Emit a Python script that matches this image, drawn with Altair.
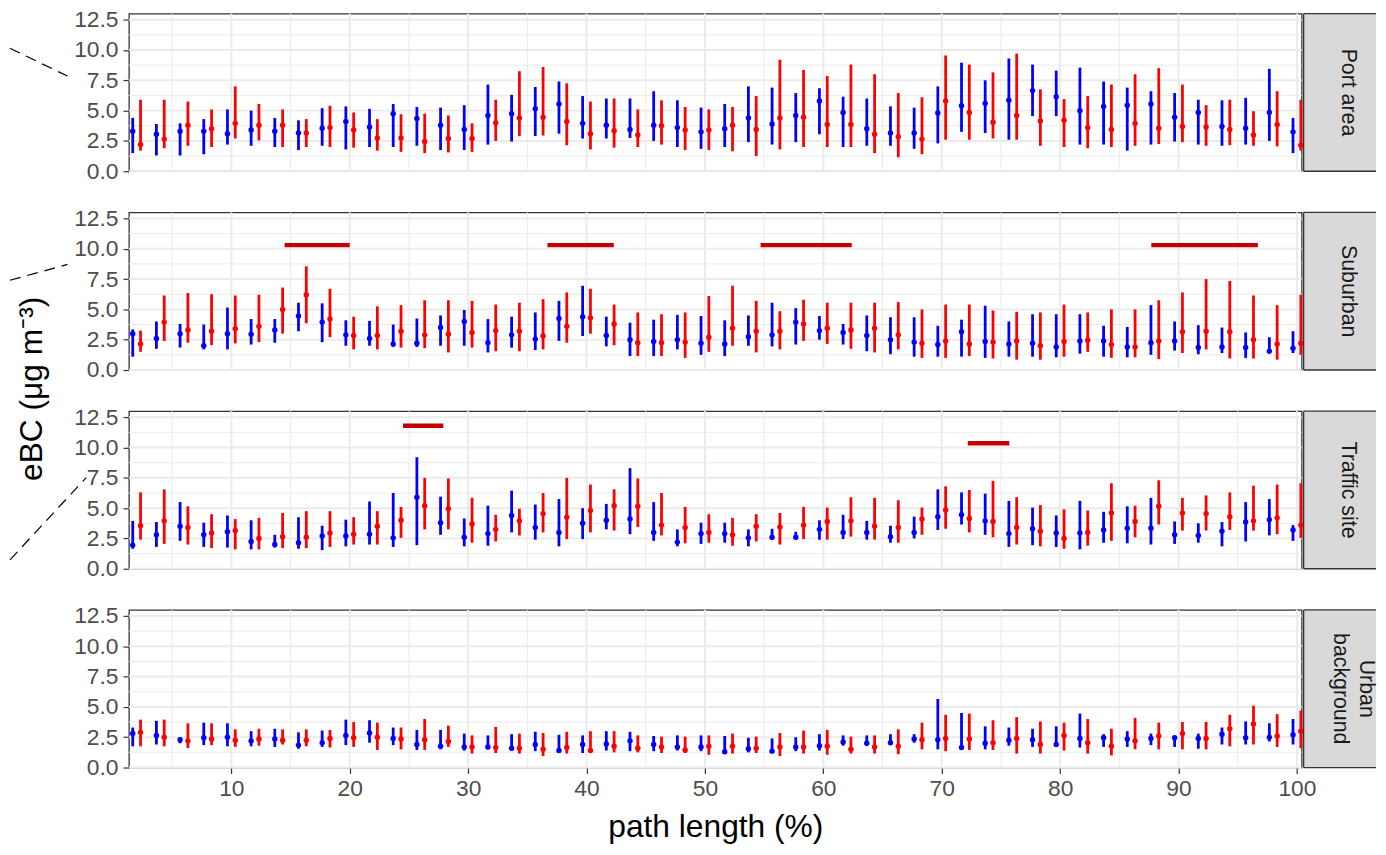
import altair as alt
import pandas as pd

# ---------------- data ----------------
path_length = [2, 4, 6, 8, 10, 12, 14, 16, 18, 20,
               22, 24, 26, 28, 30, 32, 34, 36, 38, 40,
               42, 44, 46, 48, 50, 52, 54, 56, 58, 60,
               62, 64, 66, 68, 70, 72, 74, 76, 78, 80,
               82, 84, 86, 88, 90, 92, 94, 96, 98, 100]

site_labels = ["Port area", "Suburban", "Traffic site", "Urban\nbackground"]
series_names = ["blue", "red"]
series_colors = ["#0000FF", "#FF0000"]

# Port area
port_blue_mid = [3.3, 3.05, 3.3, 3.3, 3.1, 3.4, 3.3, 3.15, 3.55, 4.1,
                 3.65, 4.75, 4.35, 3.8, 3.45, 4.6, 4.75, 5.15, 5.55, 3.95,
                 3.8, 3.45, 3.8, 3.6, 3.25, 3.5, 4.4, 3.9, 4.6, 5.8,
                 4.85, 3.5, 3.15, 3.15, 4.8, 5.4, 5.6, 5.85, 6.65, 6.15,
                 5.0, 5.35, 5.45, 5.55, 4.45, 4.85, 3.7, 3.55, 4.85, 3.25]
port_blue_lo = [1.5, 1.3, 1.3, 1.4, 2.2, 2.1, 2.0, 1.75, 2.1, 1.8,
                2.0, 2.0, 2.1, 1.75, 1.75, 2.2, 2.45, 2.9, 3.1, 2.7,
                2.7, 2.75, 2.5, 2.0, 1.85, 2.0, 2.4, 2.2, 2.4, 3.05,
                2.0, 2.1, 2.1, 1.85, 2.3, 3.25, 3.15, 2.6, 4.55, 4.55,
                2.2, 2.2, 1.7, 2.2, 2.45, 2.2, 2.1, 2.2, 2.5, 1.5]
port_blue_hi = [4.4, 3.9, 3.95, 4.3, 5.1, 5.0, 4.4, 4.2, 5.2, 5.35,
                5.15, 5.55, 5.3, 5.25, 5.45, 7.15, 6.3, 6.95, 7.4, 6.2,
                6.0, 6.0, 6.6, 5.85, 5.25, 5.55, 7.0, 6.9, 6.45, 6.85,
                6.15, 6.0, 5.35, 5.25, 7.0, 8.95, 7.5, 9.3, 8.8, 8.3,
                8.55, 7.4, 6.9, 6.6, 6.45, 5.9, 5.85, 6.05, 8.45, 4.4]
port_red_mid = [2.2, 2.65, 3.8, 3.5, 3.95, 3.8, 3.8, 3.15, 3.6, 3.4,
                2.75, 2.75, 2.45, 2.7, 2.7, 4.0, 4.4, 4.45, 4.1, 3.1,
                3.35, 3.0, 3.75, 3.4, 3.4, 3.8, 3.45, 4.4, 4.45, 3.85,
                3.85, 3.05, 2.85, 2.65, 5.8, 4.85, 4.05, 4.6, 4.15, 4.2,
                3.6, 3.45, 3.95, 3.55, 3.7, 3.65, 3.45, 3.0, 3.85, 2.15]
port_red_lo = [1.7, 1.9, 2.1, 2.0, 2.7, 2.55, 2.0, 2.0, 2.0, 1.95,
               1.7, 1.6, 1.5, 1.55, 1.6, 2.5, 2.9, 2.95, 2.15, 1.8,
               1.95, 2.0, 2.2, 1.75, 1.75, 1.65, 1.25, 1.8, 2.0, 2.0,
               2.0, 1.5, 1.15, 1.4, 2.6, 2.6, 2.7, 2.6, 2.1, 2.0,
               1.9, 2.0, 2.1, 2.25, 2.4, 2.1, 2.15, 2.1, 2.05, 1.7]
port_red_hi = [5.9, 5.9, 5.75, 5.1, 7.0, 5.55, 5.1, 4.3, 5.4, 4.85,
               4.3, 4.7, 4.75, 4.6, 3.95, 5.9, 8.25, 8.6, 7.25, 5.75,
               6.0, 5.1, 5.85, 5.3, 5.1, 5.3, 6.2, 9.2, 8.35, 7.85,
               8.8, 8.0, 6.45, 6.1, 9.55, 8.8, 8.15, 9.7, 6.75, 5.95,
               6.2, 7.15, 8.0, 8.5, 7.15, 5.45, 5.9, 4.95, 6.6, 5.9]

# Suburban
sub_blue_mid = [3.0, 2.6, 3.0, 2.0, 3.0, 2.95, 3.3, 4.45, 3.95, 2.9,
                2.6, 2.15, 2.2, 3.5, 4.0, 2.25, 2.9, 2.55, 4.25, 4.4,
                2.85, 2.5, 2.35, 2.5, 2.2, 2.15, 2.75, 2.9, 3.95, 3.25,
                3.1, 2.85, 2.5, 2.3, 2.1, 3.15, 2.35, 2.15, 2.2, 1.9,
                2.4, 2.4, 1.9, 2.25, 2.4, 1.85, 1.9, 1.85, 1.55, 1.8]
sub_blue_lo = [1.1, 1.75, 1.85, 1.7, 1.7, 2.1, 2.25, 3.2, 2.3, 2.0,
               2.0, 1.9, 1.9, 2.0, 2.0, 1.45, 1.85, 1.65, 2.4, 2.8,
               1.95, 1.15, 1.15, 1.7, 1.25, 1.15, 2.0, 1.95, 2.1, 2.5,
               2.1, 1.55, 1.3, 1.1, 1.1, 1.1, 1.0, 1.1, 1.1, 1.05,
               1.35, 1.1, 1.05, 1.25, 1.6, 1.3, 1.4, 1.0, 1.4, 1.4]
sub_blue_hi = [3.35, 4.0, 3.8, 3.75, 5.15, 4.2, 4.2, 5.55, 5.5, 4.1,
               4.05, 3.75, 4.25, 4.5, 4.95, 4.2, 4.4, 4.75, 5.7, 6.95,
               4.4, 3.9, 4.15, 4.55, 4.45, 4.1, 4.5, 5.55, 5.1, 4.45,
               3.8, 4.5, 4.35, 4.35, 3.65, 4.15, 5.3, 4.0, 4.6, 4.6,
               4.6, 3.65, 3.55, 5.35, 4.0, 3.7, 3.5, 3.1, 2.7, 3.2]
sub_red_mid = [2.15, 3.95, 3.3, 3.2, 3.4, 3.6, 5.0, 6.2, 4.2, 2.85,
               2.85, 3.2, 2.9, 2.95, 3.1, 3.25, 3.2, 2.8, 3.6, 4.3,
               3.8, 2.25, 2.25, 2.3, 2.7, 3.45, 3.2, 3.2, 3.8, 3.45,
               3.3, 3.45, 2.9, 2.2, 2.4, 2.15, 2.3, 2.4, 2.0, 2.35,
               2.45, 2.1, 1.9, 2.4, 3.15, 3.2, 3.15, 2.5, 2.15, 2.2]
sub_red_lo = [1.5, 2.4, 2.25, 2.05, 2.2, 2.3, 3.0, 3.85, 2.7, 1.7,
              1.7, 1.85, 1.8, 1.45, 1.85, 1.55, 1.55, 1.7, 2.25, 3.0,
              2.05, 1.15, 1.15, 1.0, 1.5, 2.0, 1.45, 1.7, 2.4, 2.15,
              1.75, 1.45, 1.7, 1.0, 1.0, 1.15, 0.95, 0.85, 0.85, 1.1,
              1.5, 1.0, 1.05, 0.9, 1.4, 1.7, 0.95, 0.95, 0.85, 1.25]
sub_red_hi = [3.25, 6.15, 6.35, 6.25, 6.15, 6.2, 6.8, 8.55, 6.7, 4.4,
              5.25, 5.35, 5.75, 5.75, 5.7, 5.4, 5.55, 5.85, 6.4, 6.7,
              5.4, 4.75, 4.6, 4.75, 6.1, 6.95, 5.7, 4.85, 5.8, 5.55,
              5.55, 5.55, 5.6, 5.0, 5.4, 5.4, 4.9, 4.8, 4.75, 5.4,
              4.75, 5.0, 5.0, 5.75, 6.4, 7.5, 7.35, 6.15, 5.35, 6.2]

# Traffic site
tra_blue_mid = [1.95, 2.8, 3.5, 2.8, 3.05, 2.25, 2.0, 2.15, 2.7, 2.7,
                2.85, 2.55, 5.9, 3.8, 2.6, 2.9, 4.4, 3.4, 3.0, 3.75,
                4.0, 4.1, 3.0, 2.2, 2.9, 2.9, 2.55, 2.6, 2.6, 3.25,
                3.0, 3.0, 2.65, 3.0, 4.3, 4.45, 3.95, 2.9, 3.3, 2.95,
                2.95, 3.2, 3.35, 3.35, 2.8, 2.75, 3.1, 3.85, 4.05, 3.2]
tra_blue_lo = [1.65, 1.8, 2.3, 1.8, 1.75, 1.6, 1.75, 1.65, 1.55, 1.85,
               2.0, 1.8, 1.95, 2.8, 1.85, 1.9, 3.0, 2.4, 1.85, 2.45,
               3.25, 2.85, 2.3, 1.85, 2.05, 2.15, 1.85, 2.4, 2.4, 2.4,
               2.45, 2.4, 2.15, 2.5, 3.2, 3.65, 2.8, 1.8, 1.95, 1.8,
               1.6, 2.15, 2.1, 2.0, 2.05, 2.15, 1.85, 2.25, 2.75, 2.3]
tra_blue_hi = [3.95, 3.85, 5.5, 3.8, 4.4, 4.0, 2.8, 4.25, 3.55, 4.05,
               5.55, 6.25, 9.2, 5.95, 4.15, 5.2, 6.45, 5.3, 5.75, 5.0,
               5.35, 8.3, 5.5, 3.25, 3.8, 3.8, 3.25, 3.3, 3.05, 4.0,
               4.45, 3.95, 3.55, 4.3, 6.55, 6.3, 6.2, 5.6, 5.05, 4.4,
               5.6, 4.7, 5.15, 5.85, 3.9, 3.75, 3.85, 5.5, 5.75, 3.6]
tra_red_mid = [3.55, 3.95, 3.4, 2.95, 3.15, 2.5, 2.65, 2.6, 2.95, 2.85,
               3.5, 4.0, 5.2, 4.95, 3.7, 3.25, 3.95, 4.55, 4.25, 4.8,
               5.2, 5.15, 3.6, 3.4, 3.0, 2.8, 3.5, 3.45, 3.6, 3.9,
               3.95, 3.5, 3.4, 4.1, 4.85, 4.15, 3.9, 3.4, 3.1, 2.5,
               3.0, 4.6, 3.9, 5.15, 4.6, 4.55, 4.3, 3.95, 4.2, 3.6]
tra_red_lo = [2.4, 2.05, 2.0, 1.7, 1.6, 1.6, 1.7, 1.7, 1.8, 2.0,
              2.0, 2.55, 3.25, 3.25, 2.15, 2.25, 2.75, 3.0, 2.45, 3.0,
              3.15, 3.45, 2.75, 2.1, 2.15, 1.9, 2.25, 2.0, 2.45, 2.4,
              2.65, 2.4, 2.15, 2.8, 3.3, 3.0, 2.6, 2.0, 1.85, 1.65,
              1.9, 2.3, 2.6, 3.65, 3.15, 3.15, 3.2, 3.15, 2.85, 2.55]
tra_red_hi = [6.3, 6.55, 5.15, 4.5, 4.1, 4.2, 4.6, 4.75, 4.75, 4.25,
              4.75, 5.1, 7.5, 7.45, 5.85, 4.45, 4.95, 6.25, 7.5, 6.95,
              6.55, 7.45, 6.25, 5.1, 4.5, 4.2, 4.5, 4.6, 5.1, 5.05,
              5.9, 5.85, 5.65, 5.05, 6.8, 6.5, 7.25, 5.9, 5.25, 4.9,
              4.8, 7.05, 5.2, 7.3, 5.85, 6.05, 6.3, 6.85, 6.95, 7.05]

# Urban background
urb_blue_mid = [2.8, 2.65, 2.3, 2.45, 2.5, 2.2, 2.35, 1.85, 2.05, 2.65,
                2.85, 2.4, 1.9, 1.75, 1.7, 1.7, 1.6, 1.9, 1.4, 1.9,
                1.95, 2.2, 1.9, 1.7, 1.7, 1.3, 1.55, 1.35, 1.7, 1.8,
                2.1, 2.0, 2.05, 2.35, 2.3, 1.65, 2.0, 2.25, 2.3, 1.9,
                2.4, 2.45, 2.35, 2.4, 2.45, 2.4, 2.75, 2.45, 2.5, 2.7]
urb_blue_lo = [1.75, 1.9, 2.0, 1.85, 1.75, 1.75, 1.7, 1.55, 1.7, 1.85,
               2.05, 1.85, 1.45, 1.5, 1.4, 1.5, 1.4, 1.35, 1.2, 1.2,
               1.4, 1.35, 1.35, 1.4, 1.35, 1.15, 1.25, 1.2, 1.35, 1.4,
               1.8, 1.8, 1.9, 2.05, 1.5, 1.45, 1.5, 1.8, 1.7, 1.7,
               1.65, 1.7, 1.7, 1.85, 1.7, 1.55, 1.9, 1.9, 2.15, 1.9]
urb_blue_hi = [3.3, 3.85, 2.5, 3.7, 3.65, 3.0, 3.2, 2.9, 3.05, 3.95,
               3.9, 3.3, 3.1, 3.1, 2.8, 2.65, 2.75, 2.95, 2.7, 2.65,
               3.0, 2.95, 2.6, 2.65, 2.65, 2.6, 2.45, 2.4, 2.5, 2.75,
               2.65, 2.65, 2.75, 2.75, 5.65, 4.5, 3.4, 3.3, 3.2, 3.4,
               4.45, 2.75, 3.0, 2.8, 2.55, 2.8, 3.3, 3.8, 3.65, 4.0]
urb_red_mid = [2.9, 2.5, 2.2, 2.35, 2.25, 2.35, 2.25, 2.25, 2.4, 2.45,
               2.5, 2.35, 2.3, 2.15, 1.7, 1.65, 1.6, 1.5, 1.65, 1.4,
               1.75, 1.6, 1.7, 1.45, 1.75, 1.75, 1.6, 1.7, 1.7, 1.75,
               1.5, 1.7, 1.75, 2.3, 2.4, 2.35, 2.05, 2.4, 1.9, 2.65,
               2.05, 1.75, 2.2, 2.6, 2.8, 2.4, 3.2, 3.6, 2.6, 3.0]
urb_red_lo = [1.75, 1.75, 1.6, 1.85, 1.7, 1.8, 1.9, 1.75, 1.65, 1.7,
              1.45, 1.5, 1.45, 1.7, 1.15, 1.2, 1.15, 0.95, 1.15, 1.2,
              1.25, 1.25, 1.2, 1.2, 1.05, 1.15, 1.2, 0.95, 1.15, 1.05,
              1.15, 1.15, 1.1, 1.5, 1.35, 1.45, 1.45, 1.15, 1.15, 1.4,
              1.15, 1.0, 1.5, 1.5, 1.5, 1.5, 1.75, 1.9, 1.7, 1.6]
urb_red_hi = [3.95, 3.95, 3.65, 3.65, 3.15, 3.2, 3.15, 3.15, 3.1, 3.75,
              3.7, 3.3, 4.0, 3.45, 2.65, 3.35, 2.8, 2.85, 2.95, 3.0,
              3.0, 2.65, 2.55, 2.55, 2.65, 2.8, 2.55, 2.85, 3.05, 3.1,
              2.55, 2.65, 3.15, 3.7, 4.35, 4.45, 3.9, 4.15, 3.8, 3.7,
              4.0, 3.2, 4.1, 3.7, 3.75, 3.75, 4.35, 5.1, 4.4, 4.7]

# significance segments (start, end in path %, level in eBC units)
sub_sig_start = [14.5, 36.7, 54.7, 87.7]
sub_sig_end = [20.0, 42.3, 62.4, 96.7]
sub_sig_level = [10.3, 10.3, 10.3, 10.3]
tra_sig_start = [24.5, 72.2]
tra_sig_end = [27.9, 75.7]
tra_sig_level = [11.8, 10.35]

# axis ticks / grid values
x_major = [10, 20, 30, 40, 50, 60, 70, 80, 90, 100]
x_minor = [5, 15, 25, 35, 45, 55, 65, 75, 85, 95]
y_major = [0, 2.5, 5, 7.5, 10, 12.5]
y_minor = [1.25, 3.75, 6.25, 8.75, 11.25]

# ---------------- layout constants ----------------
W = 1183
H = 159
SPACING = 41.5
STRIP_GAP = 2
STRIP_W = 73
TEXT_OFF = 47
MULTI_SHIFT = 18
LINE_H = 26
FONT = "Liberation Sans"
X_DOMAIN = [1.35, 100.4]
Y_DOMAIN = [0, 13]
DODGE = 0.33
TICK_FS = 23
TITLE_FS = 32
STRIP_FS = 21.5


def series_frame(bm, bl, bh, rm, rl, rh):
    rows = []
    for i, x in enumerate(path_length):
        rows.append({"path": x, "series": series_names[0], "mid": bm[i], "lo": bl[i], "hi": bh[i]})
        rows.append({"path": x, "series": series_names[1], "mid": rm[i], "lo": rl[i], "hi": rh[i]})
    return pd.DataFrame(rows)


panels = [
    (site_labels[0], series_frame(port_blue_mid, port_blue_lo, port_blue_hi, port_red_mid, port_red_lo, port_red_hi), None),
    (site_labels[1], series_frame(sub_blue_mid, sub_blue_lo, sub_blue_hi, sub_red_mid, sub_red_lo, sub_red_hi),
     pd.DataFrame({"s": sub_sig_start, "e": sub_sig_end, "lvl": sub_sig_level})),
    (site_labels[2], series_frame(tra_blue_mid, tra_blue_lo, tra_blue_hi, tra_red_mid, tra_red_lo, tra_red_hi),
     pd.DataFrame({"s": tra_sig_start, "e": tra_sig_end, "lvl": tra_sig_level})),
    (site_labels[3], series_frame(urb_blue_mid, urb_blue_lo, urb_blue_hi, urb_red_mid, urb_red_lo, urb_red_hi), None),
]

# decorative dashed connector lines at the left edge (pixel positions relative to each panel)
deco = {
    0: [(-120, 35, -62, 63)],
    1: [(-120, 68.5, -62, 52.5)],
    2: [(-120, 150, -43, 67)],
}

xs = alt.Scale(domain=X_DOMAIN, nice=False, zero=False)
ys = alt.Scale(domain=Y_DOMAIN, nice=False, zero=False)
color_scale = alt.Scale(domain=series_names, range=series_colors)


def make_x_axis(show):
    if not show:
        return None
    return alt.Axis(values=x_major, format="d", grid=False, domain=False,
                    tickColor="#333333", tickSize=6, tickWidth=1.2,
                    labelColor="#4D4D4D", labelFontSize=TICK_FS, labelPadding=4,
                    labelFlush=False, labelOverlap=False,
                    title="path length (%)", titleFontSize=TITLE_FS, titleFontWeight="normal",
                    titleColor="#000000", titlePadding=12)


def make_y_axis(with_title):
    kw = dict(values=y_major, format=".1f", grid=False, domain=False,
              tickColor="#333333", tickSize=6, tickWidth=1.2,
              labelColor="#4D4D4D", labelFontSize=TICK_FS, labelPadding=5,
              labelFlush=False)
    if with_title:
        kw.update(title="eBC (μg m⁻³)", titleFontSize=TITLE_FS, titleFontWeight="normal",
                  titleColor="#000000", titleX=-98, titleY=177.5, titleAngle=270,
                  titleAlign="center", titleBaseline="middle")
    else:
        kw.update(title=None)
    return alt.Axis(**kw)


rows = []
for idx, (label, df, sig) in enumerate(panels):
    show_x = idx == 3
    xa = make_x_axis(show_x)
    ya = make_y_axis(idx == 1)

    def X(field):
        return alt.X(field, type="quantitative", scale=xs, axis=xa)

    def Y(field):
        return alt.Y(field, type="quantitative", scale=ys, axis=ya)

    layers = []
    # grid lines
    layers.append(alt.Chart(pd.DataFrame({"g": x_minor})).mark_rule(color="#EBEBEB", strokeWidth=1).encode(x=X("g")))
    layers.append(alt.Chart(pd.DataFrame({"g": x_major})).mark_rule(color="#EBEBEB", strokeWidth=2).encode(x=X("g")))
    layers.append(alt.Chart(pd.DataFrame({"g": y_minor})).mark_rule(color="#EBEBEB", strokeWidth=1).encode(y=Y("g")))
    layers.append(alt.Chart(pd.DataFrame({"g": y_major})).mark_rule(color="#EBEBEB", strokeWidth=2).encode(y=Y("g")))

    base = alt.Chart(df).transform_calculate(
        xd=f"datum.path + (datum.series == '{series_names[0]}' ? {-DODGE} : {DODGE})"
    )
    layers.append(base.mark_rule(strokeWidth=2.8).encode(
        x=X("xd"), y=Y("lo"), y2="hi",
        color=alt.Color("series:N", scale=color_scale, legend=None)))
    layers.append(base.mark_circle(size=30, opacity=1).encode(
        x=X("xd"), y=Y("mid"),
        color=alt.Color("series:N", scale=color_scale, legend=None)))

    if sig is not None:
        layers.append(alt.Chart(sig).mark_rule(color="#C40000", strokeWidth=4.5, strokeCap="butt").encode(
            x=X("s"), x2="e", y=Y("lvl")))

    for (x1, y1, x2, y2) in deco.get(idx, []):
        layers.append(alt.Chart(pd.DataFrame({"d": [0]})).mark_rule(
            color="#000000", strokeWidth=1.2, strokeDash=[11, 7]).encode(
            x=alt.value(x1), x2=alt.value(x2), y=alt.value(y1), y2=alt.value(y2)))

    # facet strip drawn to the right of the panel (its right edge runs off the picture)
    sdf = pd.DataFrame({"lab": [label]})
    sx0 = W + STRIP_GAP
    sx1 = W + STRIP_GAP + STRIP_W
    layers.append(alt.Chart(sdf).mark_rect(color="#D9D9D9").encode(
        x=alt.value(sx0), x2=alt.value(sx1), y=alt.value(0), y2=alt.value(H)))
    strip_edge = alt.Chart(sdf).mark_rule(color="#333333", strokeWidth=1.3)
    layers.append(strip_edge.encode(x=alt.value(sx0), x2=alt.value(sx1), y=alt.value(0)))
    layers.append(strip_edge.encode(x=alt.value(sx0), x2=alt.value(sx1), y=alt.value(H)))
    layers.append(strip_edge.encode(x=alt.value(sx0), y=alt.value(0), y2=alt.value(H)))
    n_lines = label.count("\n") + 1
    layers.append(alt.Chart(sdf).mark_text(
        angle=90, fontSize=STRIP_FS, color="#1A1A1A", lineBreak="\n", lineHeight=LINE_H,
        align="center", baseline="middle").encode(
        x=alt.value(W + TEXT_OFF + (n_lines - 1) * MULTI_SHIFT), y=alt.value(H / 2), text="lab:N"))

    rows.append(alt.layer(*layers).properties(width=W, height=H))

chart = alt.vconcat(*rows, spacing=SPACING, bounds="flush").properties(
    padding={"left": 0, "top": -4, "right": 0, "bottom": 0}
).configure(font=FONT).configure_view(stroke="#333333", strokeWidth=1.3)

chart.save("out.html", embed_options={"renderer": "svg", "actions": False})
